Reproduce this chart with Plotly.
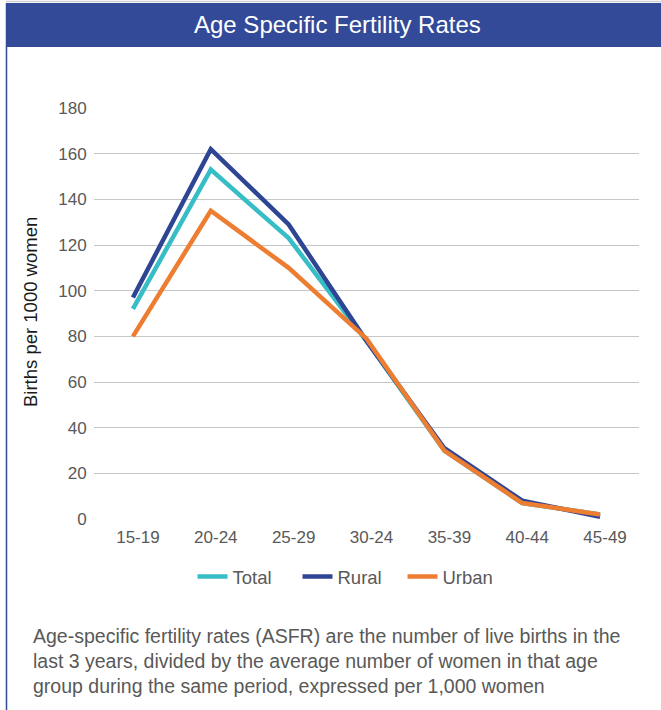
import plotly.graph_objects as go

age_groups = ["15-19", "20-24", "25-29", "30-24", "35-39", "40-44", "45-49"]
total = [92, 153, 123, 78, 30, 7, 2]
rural = [97, 162, 129, 78, 31, 8, 1]
urban = [80, 135, 110, 79, 30, 7, 2]

series_names = ["Total", "Rural", "Urban"]
series_colors = ["#36BDC6", "#2E4593", "#ED7D31"]

title_text = "Age Specific Fertility Rates"
y_title = "Births per 1000 women"
note_lines = [
    "Age-specific fertility rates (ASFR) are the number of live births in the",
    "last 3 years, divided by the average number of women in that age",
    "group during the same period, expressed per 1,000 women",
]

W, H = 661, 710
L, R, T, B = 94, 22, 108, 191
PW = W - L - R
PH = H - T - B


def px(x):
    return (x - L) / PW


def py(y):
    return (H - B - y) / PH


FONT = "Liberation Sans, Arial, sans-serif"
GRAY = "#595959"
HEADER = "#324A97"

fig = go.Figure()
for name, vals, col in zip(series_names, [total, rural, urban], series_colors):
    fig.add_trace(go.Scatter(
        x=age_groups, y=vals, name=name, mode="lines",
        line=dict(color=col, width=4.5),
    ))

shapes = [
    dict(type="rect", xref="paper", yref="paper",
         x0=px(6), x1=px(661), y0=py(47), y1=py(3),
         fillcolor=HEADER, line=dict(width=0), layer="below"),
    dict(type="line", xref="paper", yref="paper",
         x0=px(6.5), x1=px(6.5), y0=py(3), y1=py(710),
         line=dict(color=HEADER, width=1.5)),
    dict(type="line", xref="paper", yref="paper",
         x0=px(6), x1=px(661), y0=py(1.5), y1=py(1.5),
         line=dict(color="#D0D0D0", width=1.5)),
]

annotations = [
    dict(text=title_text, xref="paper", yref="paper", x=px(337), y=py(25),
         xanchor="center", yanchor="middle", showarrow=False,
         font=dict(family=FONT, size=24, color="white")),
    dict(text=y_title, xref="paper", yref="paper", x=px(30), y=py(312),
         xanchor="center", yanchor="middle", showarrow=False, textangle=-90,
         font=dict(family=FONT, size=18.5, color="#1a1a1a")),
]
for i, line in enumerate(note_lines):
    annotations.append(dict(
        text=line, xref="paper", yref="paper", x=px(31), y=py(636 + 25 * i),
        xanchor="left", yanchor="middle", showarrow=False,
        font=dict(family=FONT, size=19.5, color=GRAY)))

fig.update_layout(
    width=W, height=H,
    margin=dict(l=L, r=R, t=T, b=B),
    paper_bgcolor="white", plot_bgcolor="white",
    font=dict(family=FONT, color=GRAY, size=17),
    showlegend=True,
    legend=dict(orientation="h", x=px(350), xanchor="center", y=py(577),
                yanchor="middle", font=dict(family=FONT, size=18.5, color=GRAY),
                entrywidth=60, bgcolor="rgba(0,0,0,0)"),
    shapes=shapes,
    annotations=annotations,
    xaxis=dict(type="category", range=[-0.5, 6.5], showgrid=False,
               showline=False, zeroline=False, ticks="outside", ticklen=3,
               tickcolor="rgba(0,0,0,0)", ticklabelshift=5,
               tickfont=dict(family=FONT, size=17, color=GRAY)),
    yaxis=dict(range=[0, 180], dtick=20, showgrid=True, gridcolor="#C6C6C6",
               gridwidth=1, zeroline=False, showline=False,
               ticks="outside", ticklen=3, tickcolor="rgba(0,0,0,0)",
               tickfont=dict(family=FONT, size=17, color=GRAY)),
)

fig.write_html("out.html",
               config={"displayModeBar": False},
               post_script="document.body.style.margin='0';"
                           "document.body.style.overflow='hidden';")
